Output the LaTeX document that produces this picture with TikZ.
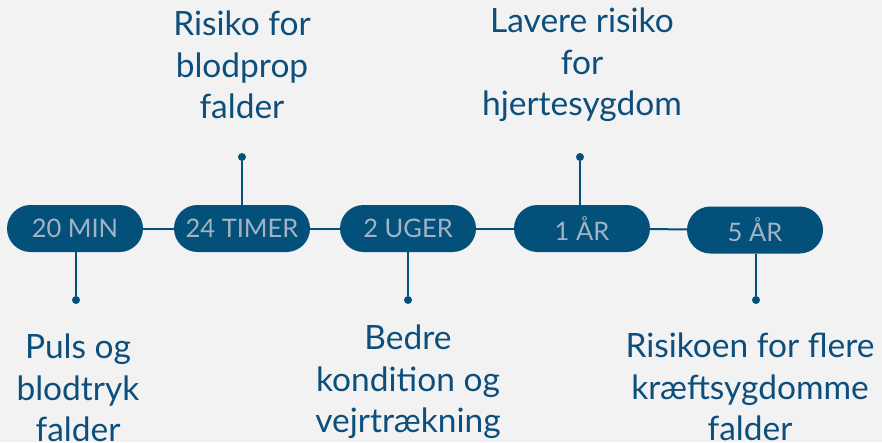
\documentclass[tikz,border=0pt]{standalone}
\usepackage{fontspec}
\setmainfont{Lato}
\definecolor{bg}{HTML}{F2F2F2}
\definecolor{pill}{HTML}{03507A}
\definecolor{pilltxt}{HTML}{A3B3C2}
\definecolor{lbl}{HTML}{0D4F7C}
\begin{document}
\begin{tikzpicture}[x=1pt,y=-1pt,
  pillbox/.style={fill=pill, rounded corners=23.5pt, minimum width=136pt, minimum height=47pt, inner sep=0pt, text=pilltxt, font=\fontsize{25.5}{28}\selectfont},
  lblbox/.style={align=center, text=lbl, font=\fontsize{33.5}{41.5}\selectfont, inner sep=0pt},
  link/.style={draw=pill, line width=2pt},
  dotm/.style={circle, fill=pill, minimum size=8pt, inner sep=0pt}]
\fill[bg] (0,0) rectangle (882,442);
\useasboundingbox (0,0) rectangle (882,442);
\node[pillbox] (p1) at (75,228.5) {20 MIN};
\node[pillbox] (p2) at (242,228.5) {24 TIMER};
\node[pillbox] (p3) at (408,228.5) {2 UGER};
\node[pillbox] (p4) at (582,228.5) {1 ÅR};
\node[pillbox] (p5) at (755,230) {5 ÅR};
\draw[link] (p1) -- (p2);
\draw[link] (p2) -- (p3);
\draw[link] (p3) -- (p4);
\draw[link] (p4) -- (p5);
\node[dotm] (d1) at (76,300) {};
\node[dotm] (d2) at (242,157) {};
\node[dotm] (d3) at (408,300) {};
\node[dotm] (d4) at (580,157) {};
\node[dotm] (d5) at (756,300) {};
\draw[link] (p1.south -| d1) -- (d1);
\draw[link] (p2.north -| d2) -- (d2);
\draw[link] (p3.south -| d3) -- (d3);
\draw[link] (p4.north -| d4) -- (d4);
\draw[link] (p5.south -| d5) -- (d5);
\node[lblbox] (t2) at (242,65) {Risiko for\\blodprop\\falder};
\node[lblbox] (t4) at (582,65) {Lavere risiko\\for\\hjertesygdom};
\node[lblbox] (t1) at (78,388) {Puls og\\blodtryk\\falder};
\node[lblbox] (t3) at (408,382) {Bedre\\kondition og\\vejrtrækning};
\node[lblbox] (t5) at (750,387) {Risikoen for flere\\kræftsygdomme\\falder};
\end{tikzpicture}
\end{document}
